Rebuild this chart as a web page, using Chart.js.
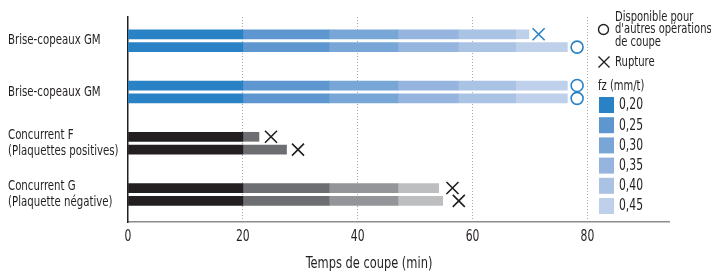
<!DOCTYPE html>
<html>
<head>
<meta charset="utf-8">
<script src="https://cdn.jsdelivr.net/npm/chart.js@4/dist/chart.umd.min.js"></script>
<style>
  html, body { margin: 0; padding: 0; background: #fff; }
</style>
</head>
<body>
<canvas id="chart" width="711" height="273"></canvas>
<script>
const FONT = "'Liberation Sans Narrow', 'DejaVu Sans Condensed', sans-serif";
const INK = '#231f20';

// groups on the y axis (two bars each)
const groupLabels = [
  ['Brise-copeaux GM'],
  ['Brise-copeaux GM'],
  ['Concurrent F', '(Plaquettes positives)'],
  ['Concurrent G', '(Plaquette négative)']
];
const groupPositions = [1.85, 5.85, 9.85, 13.85];
const barPositions = [1.35, 2.35, 5.35, 6.35, 9.35, 10.35, 13.35, 14.35];
const barTone = ['blue', 'blue', 'blue', 'blue', 'gray', 'gray', 'gray', 'gray'];

// cutting time (min) spent at each fz, one entry per bar
const fzLabels = ['0,20', '0,25', '0,30', '0,35', '0,40', '0,45'];
const seg020 = [20, 20, 20, 20, 20, 20, 20, 20];
const seg025 = [15, 15, 15, 15, 2.8, 7.6, 15, 15];
const seg030 = [12, 12, 12, 12, null, null, 12, 12];
const seg035 = [10.5, 10.5, 10.5, 10.5, null, null, 7.1, 7.8];
const seg040 = [10, 10, 10, 10, null, null, null, null];
const seg045 = [2.3, 9, 9, 9, null, null, null, null];

// end markers
const markerX = [71.5, 78.2, 78.2, 78.2, 24.9, 29.6, 56.5, 57.6];
const markerKind = ['rupture', 'dispo', 'dispo', 'dispo', 'rupture', 'rupture', 'rupture', 'rupture'];

const xTicks = [0, 20, 40, 60, 80];
const xTitle = 'Temps de coupe (min)';
const dispoText = ['Disponible pour', "d'autres opérations", 'de coupe'];
const ruptureText = 'Rupture';
const fzTitle = 'fz (mm/t)';

const blueShades = ['#2a82c6', '#5e97d0', '#78a6d6', '#95b5de', '#aac3e4', '#bfd0ea'];
const grayShades = ['#231f20', '#6d6e71', '#939598', '#bcbec0', '#d1d3d4', '#e6e7e8'];

const segments = [seg020, seg025, seg030, seg035, seg040, seg045];

const barDatasets = segments.map((seg, s) => ({
  type: 'bar',
  label: fzLabels[s],
  data: seg.map((v, i) => ({ x: v, y: barPositions[i] })),
  backgroundColor: barTone.map((t) => (t === 'blue' ? blueShades[s] : grayShades[s])),
  borderWidth: 0,
  barThickness: 9
}));

const markerColor = markerKind.map((k, i) => (barTone[i] === 'blue' ? blueShades[0] : INK));

const markerDataset = {
  type: 'scatter',
  label: 'markers',
  stack: 'markers',
  data: markerX.map((v, i) => ({ x: v, y: barPositions[i] })),
  pointStyle: markerKind.map((k) => (k === 'dispo' ? 'circle' : 'crossRot')),
  pointRadius: markerKind.map((k) => (k === 'dispo' ? 6 : 8.5)),
  pointBorderColor: markerColor,
  pointBackgroundColor: 'rgba(0,0,0,0)',
  pointBorderWidth: 1.6
};

// the original uses a condensed face, so squeeze the text horizontally
function squeezeText(ctx, text, x, y, sx) {
  ctx.save();
  ctx.translate(x, y);
  ctx.scale(sx, 1);
  ctx.fillText(text, 0, 0);
  ctx.restore();
}

const textLayer = {
  id: 'textLayer',
  afterDraw(chart) {
    const { ctx } = chart;
    const yScale = chart.scales.y;
    const xScale = chart.scales.x;
    ctx.save();
    ctx.fillStyle = INK;
    ctx.strokeStyle = INK;
    ctx.textBaseline = 'middle';
    ctx.textAlign = 'left';

    // category labels
    ctx.font = `14px ${FONT}`;
    groupLabels.forEach((lines, i) => {
      const yc = yScale.getPixelForValue(groupPositions[i]);
      lines.forEach((line, j) => {
        squeezeText(ctx, line, 8, yc + (j - (lines.length - 1) / 2) * 16, 0.81);
      });
    });

    // x tick labels + title
    ctx.textAlign = 'center';
    ctx.font = `15px ${FONT}`;
    xTicks.forEach((v) => squeezeText(ctx, String(v), xScale.getPixelForValue(v), 237, 0.8));
    ctx.font = `15.5px ${FONT}`;
    squeezeText(ctx, xTitle, 369, 264, 0.82);

    // legend: available marker
    ctx.textAlign = 'left';
    ctx.lineWidth = 1.4;
    ctx.beginPath();
    ctx.arc(603.5, 29.5, 5, 0, Math.PI * 2);
    ctx.stroke();
    ctx.font = `13.5px ${FONT}`;
    dispoText.forEach((line, i) => squeezeText(ctx, line, 615, 17 + i * 12.5, 0.82));

    // legend: rupture marker
    ctx.beginPath();
    ctx.moveTo(598.5, 56.5); ctx.lineTo(609.5, 67.5);
    ctx.moveTo(609.5, 56.5); ctx.lineTo(598.5, 67.5);
    ctx.stroke();
    ctx.font = `14px ${FONT}`;
    squeezeText(ctx, ruptureText, 615, 62.5, 0.8);

    ctx.font = `13.5px ${FONT}`;
    squeezeText(ctx, fzTitle, 598, 86, 0.82);

    ctx.font = `15px ${FONT}`;
    fzLabels.forEach((lab, i) => {
      const y = 97 + i * 20.2;
      ctx.fillStyle = blueShades[i];
      ctx.fillRect(599, y, 15, 16);
      ctx.fillStyle = INK;
      squeezeText(ctx, lab, 619, y + 8.5, 0.8);
    });
    ctx.restore();
  }
};

new Chart(document.getElementById('chart'), {
  data: { datasets: [markerDataset, ...barDatasets] },
  options: {
    indexAxis: 'y',
    responsive: false,
    animation: false,
    devicePixelRatio: 1,
    layout: { padding: { left: 8, top: 17, right: 42, bottom: 0 } },
    plugins: {
      legend: { display: false },
      tooltip: { enabled: false }
    },
    scales: {
      x: {
        type: 'linear',
        min: 0,
        max: 94.2,
        stacked: true,
        afterBuildTicks: (scale) => {
          scale.ticks = xTicks.map((v) => ({ value: v }));
        },
        afterFit: (scale) => {
          scale.height = 51;
        },
        grid: {
          color: (c) => (c.tick && c.tick.value === 0 ? 'rgba(0,0,0,0)' : '#a7a9ac'),
          lineWidth: 1,
          drawTicks: false
        },
        border: { color: '#8a8c8e', width: 1.5, dash: [1, 2] },
        ticks: { display: false }
      },
      y: {
        type: 'linear',
        min: 0,
        max: 16,
        reverse: true,
        stacked: true,
        offset: false,
        afterBuildTicks: (scale) => {
          scale.ticks = groupPositions.map((v) => ({ value: v }));
        },
        afterFit: (scale) => {
          scale.width = 120;
        },
        grid: { display: false, drawTicks: false },
        border: { color: INK, width: 1.5 },
        ticks: { display: false }
      }
    }
  },
  plugins: [textLayer]
});
</script>
</body>
</html>
